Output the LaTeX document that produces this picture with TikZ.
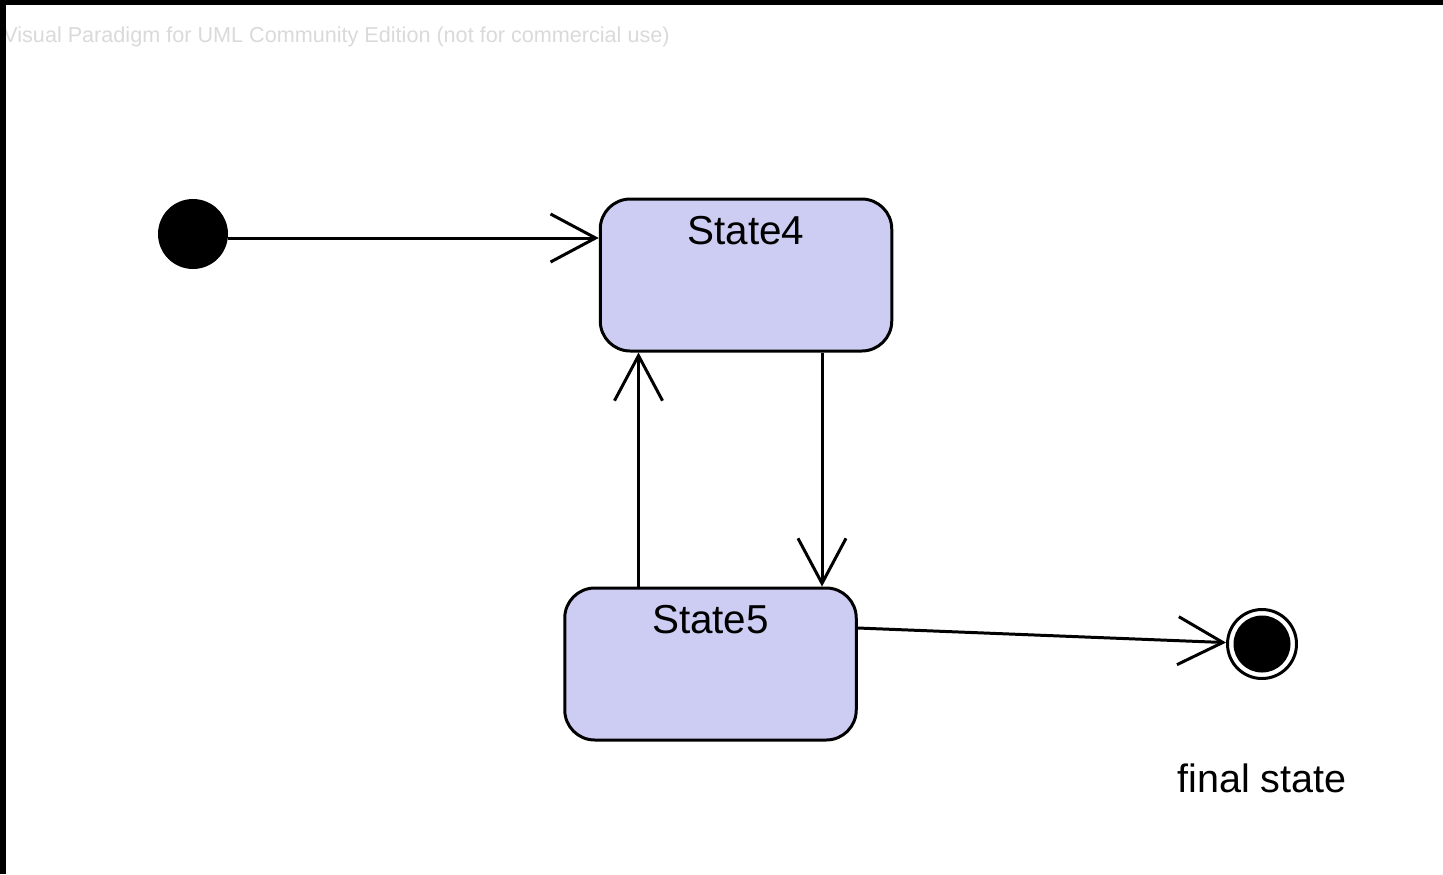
\documentclass[tikz,border=0pt]{standalone}
\usepackage{fontspec}
\setmainfont{Liberation Sans}
\usepackage{xcolor}
\usepackage{tikz}
\usetikzlibrary{calc}
\usetikzlibrary{graphs}
\usetikzlibrary{arrows.meta}
\definecolor{statefill}{RGB}{205,205,244}
\definecolor{vpgray}{RGB}{218,218,218}
\tikzset{
	trans/.style={line width=1.7pt, -{Straight Barb[length=0.9cm, width=0.96cm, line width=1.7pt]}},
	initial/.style={circle, fill=black, draw=none, minimum size=1.4cm, inner sep=0pt},
	finalstate/.style={
			circle, draw, line width=1.7pt, minimum size=1.38cm, inner sep=0pt,
			path picture={\fill[black] (path picture bounding box.center) circle (0.57cm);}
		},
	statebox/.style={
			rectangle, rounded corners=0.6cm, draw, line width=1.7pt, fill=statefill,
			minimum width=5.83cm, inner xsep=0pt, inner ysep=0.3cm,
			text height=0.6cm, text depth=1.84cm, font=\fontsize{23}{27}\selectfont
		}
}

\begin{document}
\begin{tikzpicture}
	\useasboundingbox (0,0) rectangle (28.86,-17.48);
	\fill[white] (0,0) rectangle (28.86,-17.48);
	\node[anchor=west, text=vpgray, inner sep=0pt, font=\fontsize{12.3}{14}\selectfont] (vp) at (0.06,-0.74) {Visual Paradigm for UML Community Edition (not for commercial use)};
	\fill[black] (0,0) rectangle (28.86,-0.1);
	\fill[black] (0,0) rectangle (0.12,-17.48);

	\graph[no placement]{
		init/[initial, at={(3.86,-4.68)}],
		s4/State4[statebox, at={(14.92,-5.5)}],
		s5/State5[statebox, at={(14.21,-13.28)}],
		final/[finalstate, at={(25.24,-12.88)},
			label={[label distance=1.66cm, inner sep=0pt, font=\fontsize{22.5}{26}\selectfont]below:final state}];
	};

	\draw[trans] ([yshift=-0.08cm]init.east) -- ([yshift=-0.08cm]init.east -| s4.west);
	\draw[trans] ([xshift=1.52cm]s4.south) -- ([xshift=1.52cm]s4.south |- s5.north);
	\draw[trans] ([xshift=-1.44cm]s5.north) -- ([xshift=-1.44cm]s5.north |- s4.south);
	\draw[trans] ([yshift=0.72cm]s5.east) -- (final);
\end{tikzpicture}
\end{document}
